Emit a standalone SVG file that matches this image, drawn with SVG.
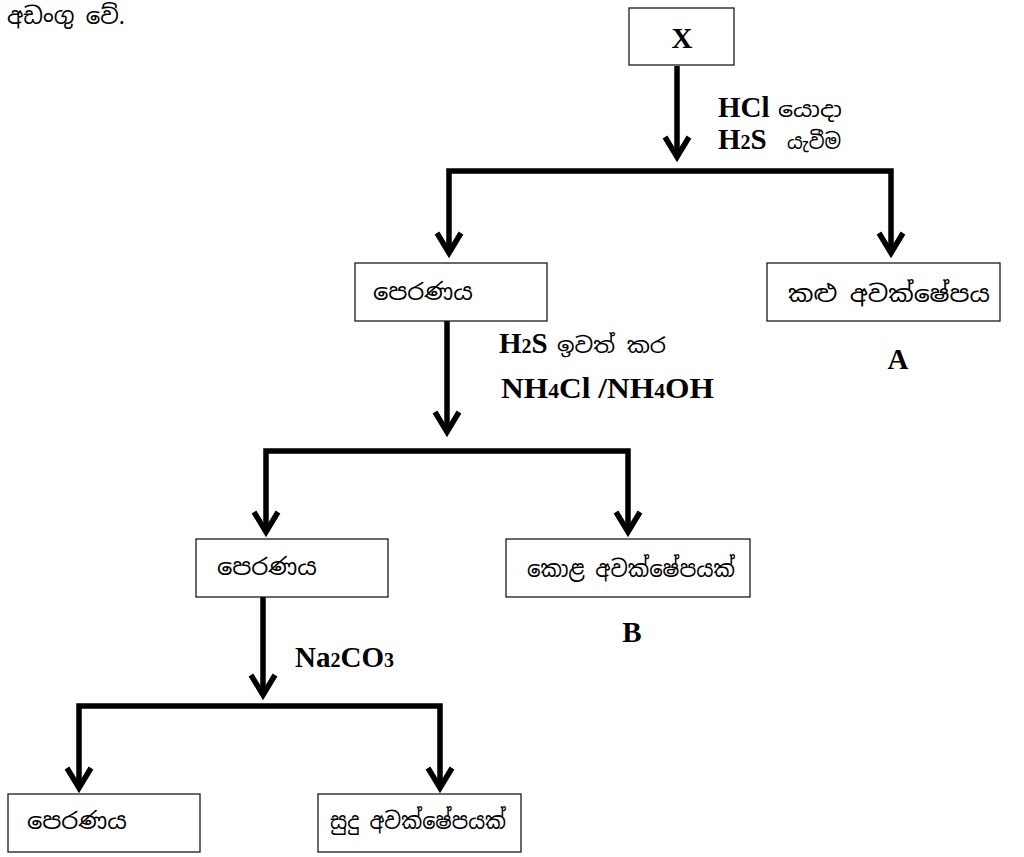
<svg xmlns="http://www.w3.org/2000/svg" xmlns:xlink="http://www.w3.org/1999/xlink" width="1024" height="857" viewBox="0 0 1024 857">
  <style>
    .box { fill: #ffffff; stroke: #1a1a1a; stroke-width: 1.3; }
    .si { font-family: "Noto Sans Sinhala", "Iskoola Pota", "Noto Sans", "DejaVu Sans", sans-serif; font-size: 23px; font-weight: normal; fill: #000; }
    .si-s { font-size: 21px; }
    .chem { font-family: "Liberation Serif", "Times New Roman", serif; font-weight: bold; font-size: 29px; fill: #000; }
    .sub { font-size: 20px; }
    .wire { fill: none; stroke: #000; stroke-width: 5.5; stroke-linejoin: miter; stroke-linecap: butt; }
  </style>
  <defs>
    <!-- chevron arrowhead; tip sits at the origin -->
    <path id="ah" class="wire" d="M-12,-25 L0,-5 L12,-25"/>
  </defs>

  <text class="si" x="7" y="24" textLength="118" lengthAdjust="spacingAndGlyphs">අඩංගු වේ.</text>

  <g id="connectors">
    <!-- X to first split -->
    <path class="wire" d="M677,66 L677,156"/>
    <use xlink:href="#ah" x="677" y="162"/>
    <path class="wire" d="M449,252 L449,171 L891,171 L891,252"/>
    <use xlink:href="#ah" x="449" y="258"/>
    <use xlink:href="#ah" x="891" y="258"/>

    <!-- filtrate 1 to second split -->
    <path class="wire" d="M447,321 L447,431"/>
    <use xlink:href="#ah" x="447" y="437"/>
    <path class="wire" d="M266,531 L266,451 L628,451 L628,531"/>
    <use xlink:href="#ah" x="266" y="537"/>
    <use xlink:href="#ah" x="628" y="537"/>

    <!-- filtrate 2 to third split -->
    <path class="wire" d="M263,597 L263,694"/>
    <use xlink:href="#ah" x="263" y="700"/>
    <path class="wire" d="M79,787 L79,706 L440,706 L440,787"/>
    <use xlink:href="#ah" x="79" y="793"/>
    <use xlink:href="#ah" x="440" y="793"/>
  </g>

  <g id="labels">
    <text class="chem" x="718" y="117">HCl</text>
    <text class="si si-s" x="778" y="117" textLength="64" lengthAdjust="spacingAndGlyphs">යොදා</text>
    <text class="chem" x="718" y="149">H<tspan class="sub">2</tspan>S</text>
    <text class="si si-s" x="787" y="149" textLength="54" lengthAdjust="spacingAndGlyphs">යැවීම</text>
    <text class="chem" x="499" y="353">H<tspan class="sub">2</tspan>S</text>
    <text class="si si-s" x="557" y="353" textLength="109" lengthAdjust="spacingAndGlyphs">ඉවත් කර</text>
    <text class="chem" x="501" y="398" textLength="213" lengthAdjust="spacingAndGlyphs">NH<tspan class="sub">4</tspan>Cl /NH<tspan class="sub">4</tspan>OH</text>
    <text class="chem" x="295" y="667">Na<tspan class="sub">2</tspan>CO<tspan class="sub">3</tspan></text>
    <text class="chem" x="898" y="369" text-anchor="middle">A</text>
    <text class="chem" x="632" y="642" text-anchor="middle">B</text>
  </g>

  <g id="node-x">
    <rect class="box" x="629" y="8" width="105" height="57"/>
    <text class="chem" x="682" y="48" text-anchor="middle">X</text>
  </g>
  <g id="node-filtrate-1">
    <rect class="box" x="355" y="263" width="192" height="58"/>
    <text class="si" x="373" y="300" textLength="100" lengthAdjust="spacingAndGlyphs">පෙරණය</text>
  </g>
  <g id="node-black-precipitate">
    <rect class="box" x="767" y="263" width="233" height="58"/>
    <text class="si" x="788" y="302" textLength="202" lengthAdjust="spacingAndGlyphs">කළු අවක්ෂේපය</text>
  </g>
  <g id="node-filtrate-2">
    <rect class="box" x="196" y="539" width="192" height="58"/>
    <text class="si" x="217" y="575" textLength="100" lengthAdjust="spacingAndGlyphs">පෙරණය</text>
  </g>
  <g id="node-green-precipitate">
    <rect class="box" x="506" y="539" width="244" height="58"/>
    <text class="si" x="527" y="577" textLength="208" lengthAdjust="spacingAndGlyphs">කොළ අවක්ෂේපයක්</text>
  </g>
  <g id="node-filtrate-3">
    <rect class="box" x="8" y="794" width="192" height="58"/>
    <text class="si" x="27" y="829" textLength="100" lengthAdjust="spacingAndGlyphs">පෙරණය</text>
  </g>
  <g id="node-white-precipitate">
    <rect class="box" x="318" y="794" width="203" height="58"/>
    <text class="si" x="330" y="829" textLength="176" lengthAdjust="spacingAndGlyphs">සුදු අවක්ෂේපයක්</text>
  </g>
</svg>
